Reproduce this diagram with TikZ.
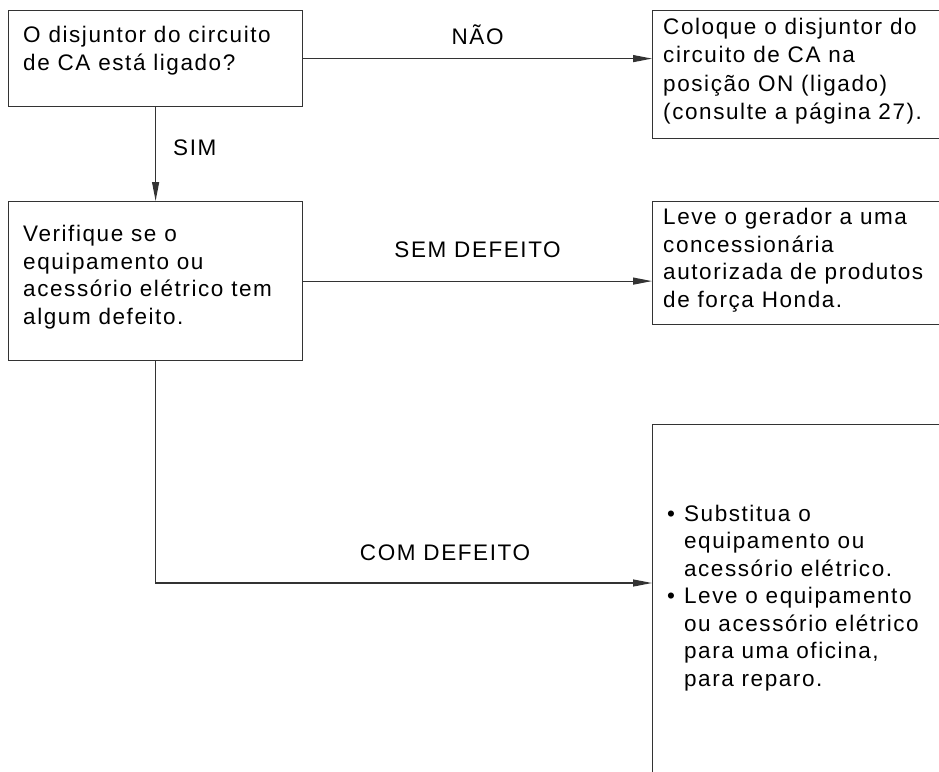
\documentclass[tikz,border=0pt]{standalone}
\usepackage{fontspec}
\setmainfont{Liberation Sans}[LetterSpace=7]
\usetikzlibrary{arrows.meta,calc,positioning}

\definecolor{linegray}{HTML}{333333}
\tikzset{
  box/.style={draw=linegray,line width=1.2pt,rectangle,inner sep=0pt,anchor=north west},
  txt/.style={anchor=north west,inner sep=0pt,align=left,font=\fontsize{22.5}{27.5}\selectfont},
  lbl/.style={inner sep=0pt,font=\fontsize{22.5}{27.5}\selectfont},
  flow/.style={draw=linegray,line width=1.2pt,-{Triangle[length=19pt,width=7pt]}}
}

\begin{document}
\begin{tikzpicture}[x=1pt,y=-1pt]
  \useasboundingbox (0,0) rectangle (939,771);
  \clip (0,0) rectangle (939,771);

  % questions on the left
  \node[box,minimum width=294pt,minimum height=96pt] (q1) at (8,10) {};
  \node[txt] (q1text) at (23,26) {O disjuntor do circuito\\de CA está ligado?};
  \node[box,minimum width=294pt,minimum height=159pt] (q2) at (8,201) {};
  \node[txt] (q2text) at (23,225) {Verifique se o\\equipamento ou\\acessório elétrico tem\\algum defeito.};

  % actions on the right (cut by the page edge)
  \node[box,minimum width=330pt,minimum height=128pt] (a1) at (652,10) {};
  \node[txt,font=\fontsize{22.5}{28.3}\selectfont] (a1text) at (663,18) {Coloque o disjuntor do\\circuito de CA na\\posição ON (ligado)\\(consulte a página 27).};
  \node[box,minimum width=330pt,minimum height=123pt] (a2) at (652,201) {};
  \node[txt] (a2text) at (663,208) {Leve o gerador a uma\\concessionária\\autorizada de produtos\\de força Honda.};
  \node[box,minimum width=330pt,minimum height=400pt] (a3) at (652,424) {};
  \node[txt] (a3text) at (667,502) {%
    \begin{tabular}{@{}l@{\hspace{9pt}}l@{}}
      \textbullet & Substitua o\\
                  & equipamento ou\\
                  & acessório elétrico.\\
      \textbullet & Leve o equipamento\\
                  & ou acessório elétrico\\
                  & para uma oficina,\\
                  & para reparo.
    \end{tabular}};
  \coordinate (a3in) at (652,583);

  % connectors
  \draw[flow] (q1.east) -- node[lbl,above=13pt] (no) {NÃO} (a1.west |- q1.east);
  \draw[flow] (q1.south) -- node[lbl,right=17pt,yshift=6pt] (yes) {SIM} (q2.north);
  \draw[flow] (q2.east) -- node[lbl,above=23pt] (ok) {SEM DEFEITO} (a2.west |- q2.east);
  \draw[flow] (q2.south) |- (a3in);
  \node[lbl] (bad) at (445,553) {COM DEFEITO};
\end{tikzpicture}
\end{document}
